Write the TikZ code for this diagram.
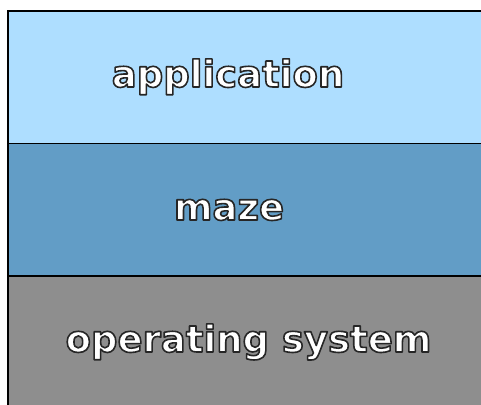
\documentclass[tikz,border=0pt]{standalone}
\usepackage{fontspec}
\setsansfont{DejaVu Sans}
\definecolor{appblue}{HTML}{AEDEFF}
\definecolor{mazeblue}{HTML}{629DC6}
\definecolor{osgray}{HTML}{8E8E8E}
% white letters with a dark stroke round them (fill, then stroke)
\newcommand{\layertext}[1]{%
  \special{pdf:literal direct q 2 Tr 0.15 0.15 0.15 RG 1.6 w 1 j}#1%
  \special{pdf:literal direct Q}}
\begin{document}
\begin{tikzpicture}[x=1pt,y=1pt,line width=1.8pt,
    layer label/.style={text=white,anchor=base,inner sep=0pt,
      font=\sffamily\bfseries\fontsize{37}{40}\selectfont}]
        \useasboundingbox (0,0) rectangle (481,404);
        \clip (0,0) rectangle (481,404);
        % the three layers, bottom to top
        \draw[fill=osgray] (8,-20) rectangle (520,128);
        \draw[fill=mazeblue] (8,128) rectangle (520,260.5);
        \draw[fill=appblue] (8,260.5) rectangle (520,393);
        \node (app) at (228,317)[layer label]{\layertext{application}};
        \node (maze) at (229,184)[layer label]{\layertext{maze}};
        \node (os) at (248.5,52)[layer label]{\layertext{operating system}};
    \end{tikzpicture}
\end{document}
